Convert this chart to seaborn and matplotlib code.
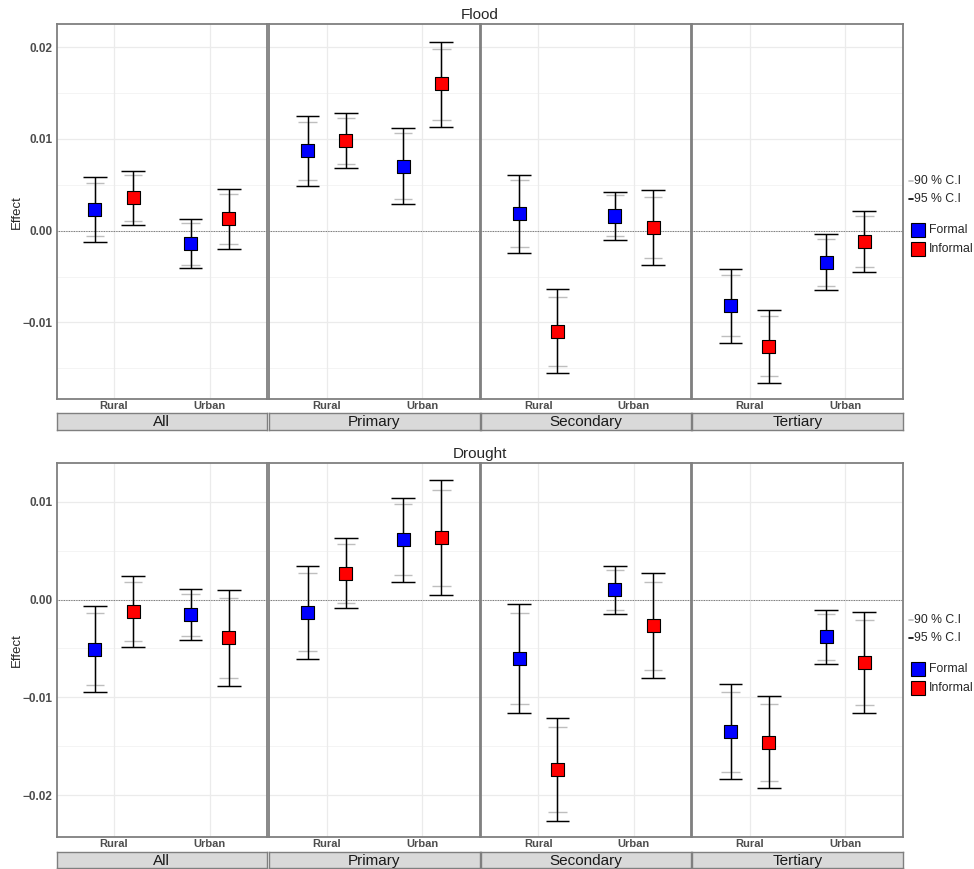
import numpy as np
import pandas as pd
import matplotlib
matplotlib.use("Agg")
import matplotlib.pyplot as plt
from matplotlib.lines import Line2D
from matplotlib.patches import Rectangle
import seaborn as sns

# ---------------------------------------------------------------- data
sectors = ["All", "Primary", "Secondary", "Tertiary"]
locations = ["Rural", "Urban"]
employment = ["Formal", "Informal"]
hazards = ["Flood", "Drought"]

# order inside each sector: Rural-Formal, Rural-Informal, Urban-Formal, Urban-Informal
flood_est = [0.0023, 0.0036, -0.0014, 0.0013,
             0.0087, 0.0098, 0.0070, 0.0160,
             0.0019, -0.0110, 0.0016, 0.0003,
             -0.0082, -0.0126, -0.0035, -0.0012]
flood_lo95 = [-0.0012, 0.0006, -0.0041, -0.0020,
              0.0049, 0.0068, 0.0029, 0.0113,
              -0.0024, -0.0155, -0.0010, -0.0037,
              -0.0122, -0.0166, -0.0065, -0.0045]
flood_hi95 = [0.0058, 0.0065, 0.0013, 0.0045,
              0.0125, 0.0128, 0.0112, 0.0206,
              0.0061, -0.0064, 0.0042, 0.0044,
              -0.0042, -0.0087, -0.0004, 0.0021]
flood_lo90 = [-0.0006, 0.0011, -0.0037, -0.0015,
              0.0055, 0.0073, 0.0035, 0.0121,
              -0.0018, -0.0148, -0.0006, -0.0030,
              -0.0115, -0.0159, -0.0060, -0.0040]
flood_hi90 = [0.0052, 0.0061, 0.0008, 0.0040,
              0.0119, 0.0123, 0.0106, 0.0198,
              0.0055, -0.0072, 0.0039, 0.0037,
              -0.0048, -0.0093, -0.0009, 0.0016]

drought_est = [-0.0051, -0.0012, -0.0015, -0.0039,
               -0.0013, 0.0027, 0.0061, 0.0063,
               -0.0060, -0.0174, 0.0010, -0.0027,
               -0.0135, -0.0146, -0.0038, -0.0064]
drought_lo95 = [-0.0094, -0.0048, -0.0041, -0.0088,
                -0.0061, -0.0009, 0.0018, 0.0005,
                -0.0116, -0.0226, -0.0015, -0.0080,
                -0.0183, -0.0193, -0.0066, -0.0116]
drought_hi95 = [-0.0007, 0.0024, 0.0011, 0.0010,
                0.0034, 0.0063, 0.0104, 0.0122,
                -0.0005, -0.0121, 0.0034, 0.0027,
                -0.0086, -0.0099, -0.0011, -0.0013]
drought_lo90 = [-0.0087, -0.0042, -0.0037, -0.0080,
                -0.0053, -0.0004, 0.0025, 0.0014,
                -0.0107, -0.0217, -0.0011, -0.0072,
                -0.0176, -0.0185, -0.0062, -0.0108]
drought_hi90 = [-0.0014, 0.0018, 0.0006, 0.0002,
                0.0027, 0.0057, 0.0098, 0.0112,
                -0.0014, -0.0130, 0.0030, 0.0018,
                -0.0094, -0.0107, -0.0015, -0.0021]

series = {
    "Flood": (flood_est, flood_lo95, flood_hi95, flood_lo90, flood_hi90),
    "Drought": (drought_est, drought_lo95, drought_hi95, drought_lo90, drought_hi90),
}

rows = []
for hz in hazards:
    est, lo95, hi95, lo90, hi90 = series[hz]
    i = 0
    for sec in sectors:
        for loc in locations:
            for emp in employment:
                rows.append(dict(hazard=hz, sector=sec, location=loc, employment=emp,
                                 est=est[i], lo95=lo95[i], hi95=hi95[i],
                                 lo90=lo90[i], hi90=hi90[i]))
                i += 1
df = pd.DataFrame(rows)
dodge = {"Formal": -0.2, "Informal": 0.2}
df["xpos"] = df["location"].map({l: k for k, l in enumerate(locations)}) + df["employment"].map(dodge)

palette = {"Formal": "#0000FF", "Informal": "#FF0000"}

# ---------------------------------------------------------------- style
sns.set_style("white")
plt.rcParams["font.family"] = ["Liberation Sans", "DejaVu Sans"]

W, H = 974, 869
fig = plt.figure(figsize=(W / 100, H / 100), dpi=100)


def box(x0, y0, x1, y1):
    return [x0 / W, 1 - y1 / H, (x1 - x0) / W, (y1 - y0) / H]


col_left = [56.7, 269.3, 481.0, 692.3]
col_w = 210.3
row_span = {"Flood": (24.3, 399.0), "Drought": (463.3, 837.3)}
strip_span = {"Flood": (413.3, 430.0), "Drought": (851.7, 868.0)}
ylims = {"Flood": (-0.01836, 0.02251), "Drought": (-0.02429, 0.01392)}
yticks = {"Flood": [-0.01, 0.0, 0.01, 0.02], "Drought": [-0.02, -0.01, 0.0, 0.01]}
yminor = {"Flood": [-0.015, -0.005, 0.005, 0.015], "Drought": [-0.015, -0.005, 0.005]}

border = "#7F7F7F"
tick_grey = "#4D4D4D"

for hz in hazards:
    top, bot = row_span[hz]
    for j, sec in enumerate(sectors):
        ax = fig.add_axes(box(col_left[j], top, col_left[j] + col_w, bot))
        sub = df[(df.hazard == hz) & (df.sector == sec)]

        ax.set_xlim(-0.6, 1.6)
        ax.set_ylim(*ylims[hz])

        # grid
        for v in yminor[hz]:
            ax.axhline(v, color="#F2F2F2", lw=0.6, zorder=0)
        for v in yticks[hz]:
            ax.axhline(v, color="#EBEBEB", lw=0.9, zorder=0)
        for v in range(len(locations)):
            ax.axvline(v, color="#EBEBEB", lw=0.9, zorder=0)
        ax.axhline(0, color="#555555", lw=0.6, ls=(0, (1, 1)), zorder=1)

        # 90 % intervals (grey caps) under the 95 % intervals
        ax.vlines(sub.xpos, sub.lo90, sub.hi90, color="#BEBEBE", lw=1.0, zorder=2)
        for yv in ("lo90", "hi90"):
            ax.hlines(sub[yv], sub.xpos - 0.097, sub.xpos + 0.097, color="#BEBEBE", lw=1.0, zorder=2)
        ax.vlines(sub.xpos, sub.lo95, sub.hi95, color="black", lw=1.05, zorder=3)
        for yv in ("lo95", "hi95"):
            ax.hlines(sub[yv], sub.xpos - 0.125, sub.xpos + 0.125, color="black", lw=1.05, zorder=3)

        sns.scatterplot(data=sub, x="xpos", y="est", hue="employment", palette=palette,
                        hue_order=employment, marker="s", s=88, edgecolor="black",
                        linewidth=0.8, legend=False, ax=ax, zorder=4)

        ax.set_xlabel("")
        ax.set_ylabel("")
        ax.set_xticks(range(len(locations)))
        ax.set_xticklabels(locations, fontsize=8, fontweight="bold", color=tick_grey)
        ax.tick_params(axis="x", length=0, pad=1.5)
        ax.set_yticks(yticks[hz])
        if j == 0:
            ax.set_yticklabels([f"{v:.2f}".replace("-", "\u2212") for v in yticks[hz]],
                               fontsize=8.5, fontweight="bold", color=tick_grey)
            ax.tick_params(axis="y", length=2, width=0.6, color=tick_grey, pad=1)
        else:
            ax.tick_params(axis="y", length=0, labelleft=False)
        for s in ax.spines.values():
            s.set_color(border)
            s.set_linewidth(1.3)

        # strip below panel
        s0, s1 = strip_span[hz]
        sax = fig.add_axes(box(col_left[j], s0, col_left[j] + col_w, s1))
        sax.set_facecolor("#D9D9D9")
        sax.set_xticks([])
        sax.set_yticks([])
        for s in sax.spines.values():
            s.set_color(border)
            s.set_linewidth(1.0)
        sax.text(0.5, 0.45, sec, ha="center", va="center", fontsize=11,
                 color="#1A1A1A", transform=sax.transAxes)

    # row title and axis label
    fig.text(479.5 / W, 1 - (top - 9) / H, hz, ha="center", va="center", fontsize=11)
    fig.text(17 / W, 1 - ((top + bot) / 2) / H, "Effect", ha="center", va="center",
             rotation=90, fontsize=9.5)

    # legend keys
    ci_items = [("90 % C.I", "#BEBEBE", top + 156.7), ("95 % C.I", "black", top + 175.0)]
    for lab, col, yy in ci_items:
        fig.add_artist(Line2D([909 / W, 913 / W], [1 - yy / H, 1 - yy / H], color=col,
                              lw=1.2, transform=fig.transFigure))
        fig.text(914 / W, 1 - yy / H, lab, ha="left", va="center", fontsize=8.8)
    for emp, yy in zip(employment, (top + 205.7, top + 224.7)):
        fig.add_artist(Rectangle((911 / W, 1 - (yy + 7) / H), 14 / W, 14 / H,
                                 facecolor=palette[emp], edgecolor="black", lw=0.8,
                                 transform=fig.transFigure))
        fig.text(929 / W, 1 - yy / H, emp, ha="left", va="center", fontsize=8.8)

fig.savefig("out.png", dpi=100, facecolor="white")
